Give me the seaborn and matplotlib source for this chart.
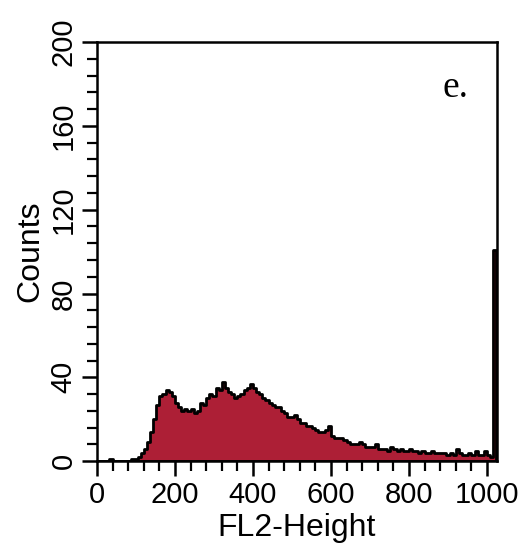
import pandas as pd
import matplotlib
matplotlib.use("Agg")
import matplotlib.pyplot as plt
import seaborn as sns
from matplotlib.ticker import MultipleLocator

# FL2-Height channel histogram, 128 bins of 8 channels (0-1024)
bin_width = 8
counts = [
    0, 0, 0, 0, 1, 0, 0, 0, 0, 0, 0, 1, 1, 2, 4, 6,
    9, 14, 20, 27, 31, 32, 34, 33, 31, 28, 26, 24, 25, 24, 25, 23,
    24, 28, 27, 30, 32, 31, 35, 34, 38, 35, 33, 32, 30, 31, 32, 34,
    35, 37, 35, 33, 32, 30, 29, 28, 27, 26, 26, 24, 23, 21, 21, 22,
    20, 18, 18, 17, 17, 16, 15, 14, 14, 15, 17, 12, 11, 11, 11, 10,
    9, 8, 8, 8, 9, 8, 7, 7, 7, 8, 6, 6, 6, 5, 7, 6,
    5, 6, 5, 5, 6, 5, 5, 4, 5, 4, 4, 5, 4, 4, 4, 4,
    3, 4, 3, 6, 4, 3, 3, 4, 3, 5, 3, 3, 5, 3, 2, 101,
]
x_ticks = [0, 200, 400, 600, 800, 1000]
y_ticks = [0, 40, 80, 120, 160, 200]

edges = [i * bin_width for i in range(len(counts) + 1)]
df = pd.DataFrame({"channel": [e + bin_width / 2 for e in edges[:-1]],
                   "count": counts})

sns.set_style("ticks")
plt.rcParams["font.family"] = ["Liberation Sans", "DejaVu Sans"]
plt.rcParams["text.color"] = "black"
plt.rcParams["axes.labelcolor"] = "black"
plt.rcParams["xtick.color"] = "black"
plt.rcParams["ytick.color"] = "black"

fig = plt.figure(figsize=(5.24, 5.53), dpi=100)
ax = fig.add_axes([0.185, 0.166, 0.763, 0.758])

sns.histplot(data=df, x="channel", weights="count", bins=edges,
             element="step", fill=True, color="#ad1f36", alpha=1,
             edgecolor="black", linewidth=2.0, ax=ax)

ax.set_xlim(0, 1025)
ax.set_ylim(0, 200)
ax.set_xticks(x_ticks)
ax.set_yticks(y_ticks)
ax.xaxis.set_minor_locator(MultipleLocator(40))
ax.yaxis.set_minor_locator(MultipleLocator(8))
ax.tick_params(which="major", direction="out", length=11, width=1.8,
               labelsize=21, labelcolor="black", color="black", pad=3)
ax.tick_params(which="minor", direction="out", length=7, width=1.6,
               color="black")
for lab in ax.get_yticklabels():
    lab.set_rotation(90)
    lab.set_va("center")

for side in ["left", "right", "top", "bottom"]:
    ax.spines[side].set_visible(True)
    ax.spines[side].set_linewidth(1.8)
    ax.spines[side].set_color("black")

ax.set_xlabel("FL2-Height", fontsize=23, labelpad=3)
ax.set_ylabel("Counts", fontsize=23, labelpad=3)

ax.text(0.8975, 0.869, "e.", transform=ax.transAxes, ha="center",
        va="baseline", fontsize=27, family=["Liberation Serif"])

fig.savefig("out.png", dpi=100)
